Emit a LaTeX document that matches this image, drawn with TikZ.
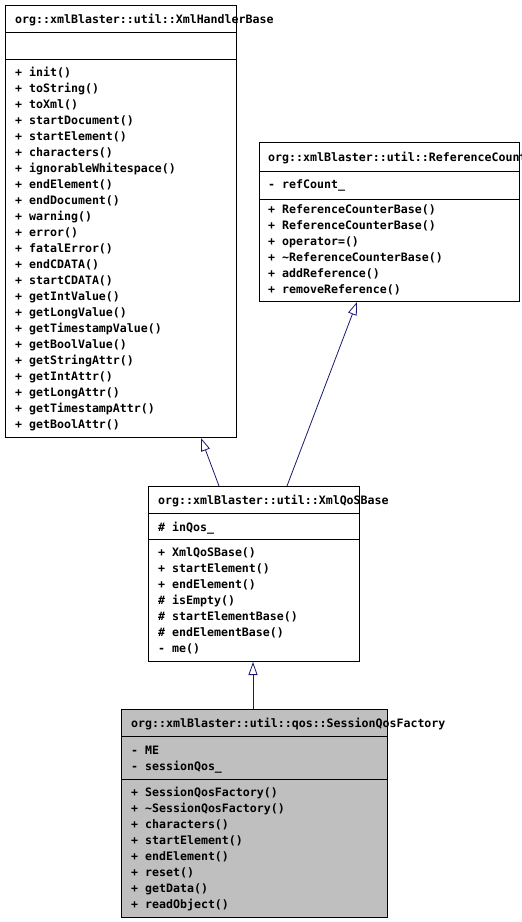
\documentclass[tikz,border=0pt]{standalone}
\usepackage{fontspec}
\setmonofont{DejaVu Sans Mono}
\usetikzlibrary{arrows.meta, positioning, calc}
\definecolor{myedge}{RGB}{25,25,112}
\definecolor{mygray}{RGB}{191,191,191}

\begin{document}
\begin{tikzpicture}[x=1pt,y=-1pt,
    every node/.style={font=\ttfamily\bfseries\fontsize{11.6}{16}\selectfont},
    classbox/.style={draw,line width=1pt,fill=white,inner sep=0pt,anchor=north west},
    member/.style={anchor=west,inner sep=0pt,text height=8pt,text depth=0pt},
    inherit/.style={-{Triangle[open,length=13pt,width=9pt,fill=white]},myedge,line width=0.8pt}]
    \fill[white] (0,0) rectangle (522,922);
    \useasboundingbox (0,0) rectangle (522,922);
    % XmlHandlerBase
    \node[classbox,minimum width=231pt,minimum height=432pt] (hb) at (5,5) {};
    \draw[line width=1pt] ($(hb.north west)+(0,27)$) -- ($(hb.north east)+(0,27)$);
    \draw[line width=1pt] ($(hb.north west)+(0,54)$) -- ($(hb.north east)+(0,54)$);
    \node[member] (hb-t) at (15,19) {org::xmlBlaster::util::XmlHandlerBase};
    \foreach \m [count=\i from 0] in {init(),toString(),toXml(),startDocument(),startElement(),characters(),ignorableWhitespace(),endElement(),endDocument(),warning(),error(),fatalError(),endCDATA(),startCDATA(),getIntValue(),getLongValue(),getTimestampValue(),getBoolValue(),getStringAttr(),getIntAttr(),getLongAttr(),getTimestampAttr(),getBoolAttr()} {
        \node[member] (hb-m\i) at (15,{72+16*\i}) {+ \m};
    }
    % ReferenceCounterBase
    \node[classbox,minimum width=260pt,minimum height=159pt] (rc) at (259,142) {};
    \draw[line width=1pt] ($(rc.north west)+(0,29)$) -- ($(rc.north east)+(0,29)$);
    \draw[line width=1pt] ($(rc.north west)+(0,57)$) -- ($(rc.north east)+(0,57)$);
    \node[member] (rc-t) at (268,157) {org::xmlBlaster::util::ReferenceCounterBase};
    \node[member] (rc-a0) at (268,184) {- refCount\_};
    \foreach \m [count=\i from 0] in {ReferenceCounterBase(),ReferenceCounterBase(),operator=(),\textasciitilde ReferenceCounterBase(),addReference(),removeReference()} {
        \node[member] (rc-m\i) at (268,{209+16*\i}) {+ \m};
    }
    % XmlQoSBase
    \node[classbox,minimum width=211pt,minimum height=175pt] (qb) at (148,486) {};
    \draw[line width=1pt] ($(qb.north west)+(0,27)$) -- ($(qb.north east)+(0,27)$);
    \draw[line width=1pt] ($(qb.north west)+(0,53)$) -- ($(qb.north east)+(0,53)$);
    \node[member] (qb-t) at (158,500) {org::xmlBlaster::util::XmlQoSBase};
    \node[member] (qb-a0) at (158,527) {\# inQos\_};
    \foreach \v/\m [count=\i from 0] in {+/XmlQoSBase(),+/startElement(),+/endElement(),\#/isEmpty(),\#/startElementBase(),\#/endElementBase(),-/me()} {
        \node[member] (qb-m\i) at (158,{552+16*\i}) {\v{} \m};
    }
    % SessionQosFactory
    \node[classbox,fill=mygray,minimum width=266pt,minimum height=208pt] (sq) at (121,709) {};
    \draw[line width=1pt] ($(sq.north west)+(0,27)$) -- ($(sq.north east)+(0,27)$);
    \draw[line width=1pt] ($(sq.north west)+(0,70)$) -- ($(sq.north east)+(0,70)$);
    \node[member] (sq-t) at (131,723) {org::xmlBlaster::util::qos::SessionQosFactory};
    \node[member] (sq-a0) at (131,750) {- ME};
    \node[member] (sq-a1) at (131,766) {- sessionQos\_};
    \foreach \m [count=\i from 0] in {SessionQosFactory(),\textasciitilde SessionQosFactory(),characters(),startElement(),endElement(),reset(),getData(),readObject()} {
        \node[member] (sq-m\i) at (131,{792+16*\i}) {+ \m};
    }
    % inheritance
    \draw[inherit] ($(qb.north west)+(71,0)$) -- ($(hb.south west)+(196,0)$);
    \draw[inherit] ($(qb.north west)+(139,0)$) -- ($(rc.south west)+(98,0)$);
    \draw[inherit] ($(sq.north west)+(132,0)$) -- ($(qb.south west)+(105,0)$);
\end{tikzpicture}
\end{document}
